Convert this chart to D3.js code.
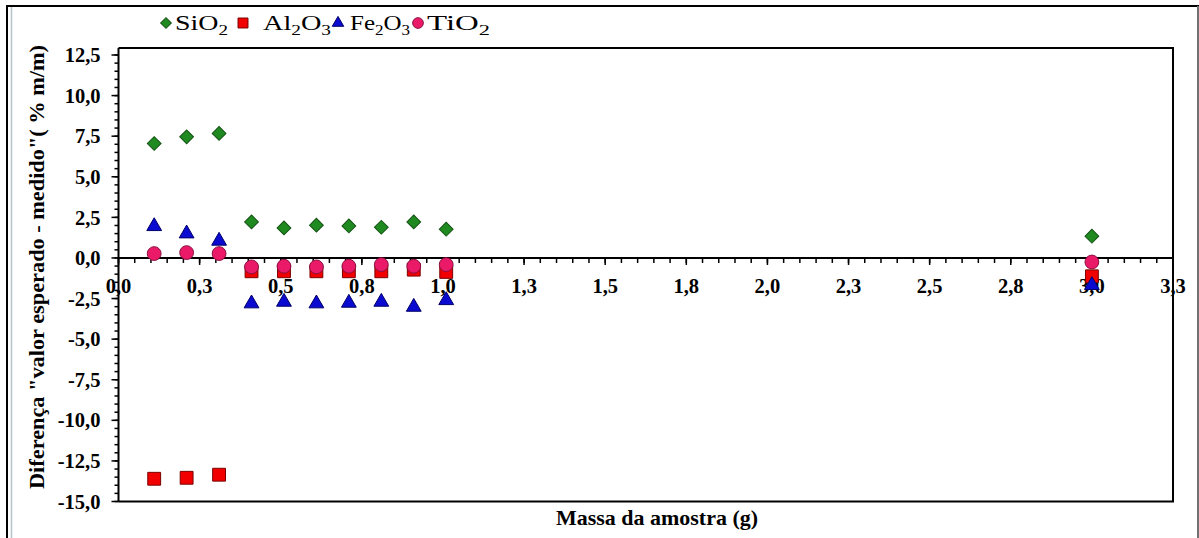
<!DOCTYPE html>
<html>
<head>
<meta charset="utf-8">
<script src="https://cdn.jsdelivr.net/npm/d3@7"></script>
<style>
  html, body { margin: 0; padding: 0; background: #fff; }
</style>
</head>
<body>
<div id="chart"></div>
<script>
// sample mass (g) and difference "expected - measured" (% m/m)
const massa = [0.11, 0.21, 0.31, 0.41, 0.51, 0.61, 0.71, 0.81, 0.91, 1.01, 3.0]
const sio2  = [7.05, 7.46, 7.67, 2.22, 1.85, 2.02, 1.97, 1.89, 2.22, 1.77, 1.34]
const al2o3 = [-13.6, -13.54, -13.35, -0.82, -0.82, -0.82, -0.82, -0.82, -0.72, -0.86, -1.13]
const fe2o3 = [1.95, 1.5, 1.05, -2.81, -2.71, -2.81, -2.77, -2.71, -3.02, -2.61, -1.68]
const tio2  = [0.27, 0.33, 0.27, -0.55, -0.51, -0.55, -0.51, -0.41, -0.51, -0.41, -0.25]

const xTicks = d3.range(0, 3.2501, 0.25)
const yTicks = d3.range(-15, 12.501, 2.5)

// legend labels split in [text, isSubscript] parts
const series = [
  { label: [['SiO', 0], ['2', 1]], values: sio2, symbol: d3.symbolSquare, rot: 45, fill: '#1f8a1f', stroke: '#145214', size: 95 },
  { label: [['Al', 0], ['2', 1], ['O', 0], ['3', 1]], values: al2o3, symbol: d3.symbolSquare, rot: 0, fill: '#f20000', stroke: '#7a0000', size: 165 },
  { label: [['Fe', 0], ['2', 1], ['O', 0], ['3', 1]], values: fe2o3, symbol: d3.symbolTriangle, rot: 0, fill: '#0a0ad0', stroke: '#00006a', size: 95 },
  { label: [['TiO', 0], ['2', 1]], values: tio2, symbol: d3.symbolCircle, rot: 0, fill: '#ea1a68', stroke: '#8a1040', size: 150 }
]

const W = 1199, H = 538
const plot = { left: 118.5, right: 1173, top: 48, bottom: 501.5 }
const FONT = '"Liberation Serif", "Times New Roman", Times, serif'

const fmt = d3.formatLocale({ decimal: ',', thousands: '.', grouping: [3], currency: ['', ''], minus: '-' }).format('.1f')

const x = d3.scaleLinear().domain([0, 3.25]).range([plot.left, plot.right])
const y = d3.scaleLinear().domain([-15, 12.5]).range([plot.bottom, 55])

const svg = d3.select('#chart').append('svg')
  .attr('width', W).attr('height', H)
  .attr('font-family', FONT)

// outer frame
svg.append('rect')
  .attr('x', 7).attr('y', 6).attr('width', W - 8).attr('height', H + 10)
  .attr('fill', 'none').attr('stroke', '#000').attr('stroke-width', 2)
svg.append('line')
  .attr('x1', 11.5).attr('x2', 11.5).attr('y1', 7).attr('y2', H)
  .attr('stroke', '#b8c4cc').attr('stroke-width', 1.5)
svg.append('line')
  .attr('x1', W - 1).attr('x2', W - 1).attr('y1', 6).attr('y2', H)
  .attr('stroke', '#999').attr('stroke-width', 1.5)

// plot box
svg.append('path')
  .attr('d', `M${plot.left},${plot.top}H${plot.right}V${plot.bottom}H${plot.left}`)
  .attr('fill', 'none').attr('stroke', '#000').attr('stroke-width', 2)

// y axis
const yMinor = d3.range(-15, 12.9, 0.5)
const gy = svg.append('g').attr('transform', `translate(${plot.left},0)`)
gy.append('line')
  .attr('y1', plot.top).attr('y2', plot.bottom)
  .attr('stroke', '#000').attr('stroke-width', 2)
gy.selectAll('line.minor').data(yMinor).join('line')
  .attr('class', 'minor')
  .attr('x1', -4).attr('x2', 0)
  .attr('y1', d => y(d)).attr('y2', d => y(d))
  .attr('stroke', '#000').attr('stroke-width', 1.5)
gy.selectAll('line.major').data(yTicks).join('line')
  .attr('class', 'major')
  .attr('x1', -7).attr('x2', 0)
  .attr('y1', d => y(d)).attr('y2', d => y(d))
  .attr('stroke', '#000').attr('stroke-width', 1.5)
gy.selectAll('text').data(yTicks).join('text')
  .attr('x', -18).attr('y', d => y(d)).attr('dy', '0.35em')
  .attr('text-anchor', 'end')
  .attr('font-size', 20.5).attr('font-weight', 'bold')
  .text(d => fmt(d))

// x axis at y = 0
const xMinor = d3.range(0, 3.2501, 0.05)
const gx = svg.append('g').attr('transform', `translate(0,${y(0)})`)
gx.append('line')
  .attr('x1', plot.left).attr('x2', plot.right)
  .attr('stroke', '#000').attr('stroke-width', 2)
gx.selectAll('line.minor').data(xMinor).join('line')
  .attr('class', 'minor')
  .attr('x1', d => x(d)).attr('x2', d => x(d))
  .attr('y1', 0).attr('y2', 5)
  .attr('stroke', '#000').attr('stroke-width', 1.5)
gx.selectAll('line.major').data(xTicks).join('line')
  .attr('class', 'major')
  .attr('x1', d => x(d)).attr('x2', d => x(d))
  .attr('y1', 0).attr('y2', 7)
  .attr('stroke', '#000').attr('stroke-width', 1.5)
gx.selectAll('text').data(xTicks).join('text')
  .attr('x', d => x(d)).attr('y', 35)
  .attr('text-anchor', 'middle')
  .attr('font-size', 20.5).attr('font-weight', 'bold')
  .text(d => fmt(d))

// axis titles
svg.append('text')
  .attr('x', 657).attr('y', 525)
  .attr('text-anchor', 'middle')
  .attr('font-size', 21).attr('font-weight', 'bold')
  .attr('textLength', 202).attr('lengthAdjust', 'spacingAndGlyphs')
  .text('Massa da amostra (g)')

svg.append('text')
  .attr('transform', 'translate(44,267) rotate(-90)')
  .attr('text-anchor', 'middle')
  .attr('font-size', 21).attr('font-weight', 'bold')
  .attr('textLength', 444).attr('lengthAdjust', 'spacingAndGlyphs')
  .text('Diferença "valor esperado - medido"( % m/m)')

// points
series.forEach(s => {
  svg.append('g').selectAll('path').data(s.values).join('path')
    .attr('transform', (d, i) => `translate(${x(massa[i])},${y(d)}) rotate(${s.rot})`)
    .attr('d', d3.symbol(s.symbol, s.size))
    .attr('fill', s.fill)
    .attr('stroke', s.stroke)
    .attr('stroke-width', 1)
})

// legend
const legendX = [166, 243, 338, 418]
const legendTextX = [175, 263, 350, 427]
const legendTextW = [53, 68, 60, 63]
const legend = svg.append('g')
series.forEach((s, i) => {
  legend.append('path')
    .attr('d', d3.symbol(s.symbol, s.size * 0.6))
    .attr('transform', `translate(${legendX[i]},23) rotate(${s.rot})`)
    .attr('fill', s.fill).attr('stroke', s.stroke).attr('stroke-width', 1)
  const t = legend.append('text')
    .attr('x', legendTextX[i]).attr('y', 30)
    .attr('font-size', 22)
    .attr('textLength', legendTextW[i]).attr('lengthAdjust', 'spacingAndGlyphs')
  let shifted = false
  s.label.forEach(([str, sub]) => {
    const ts = t.append('tspan').text(str)
    if (sub && !shifted) { ts.attr('dy', 5).attr('font-size', 15); shifted = true }
    else if (sub) ts.attr('font-size', 15)
    else if (shifted) { ts.attr('dy', -5); shifted = false }
  })
})
</script>
</body>
</html>
